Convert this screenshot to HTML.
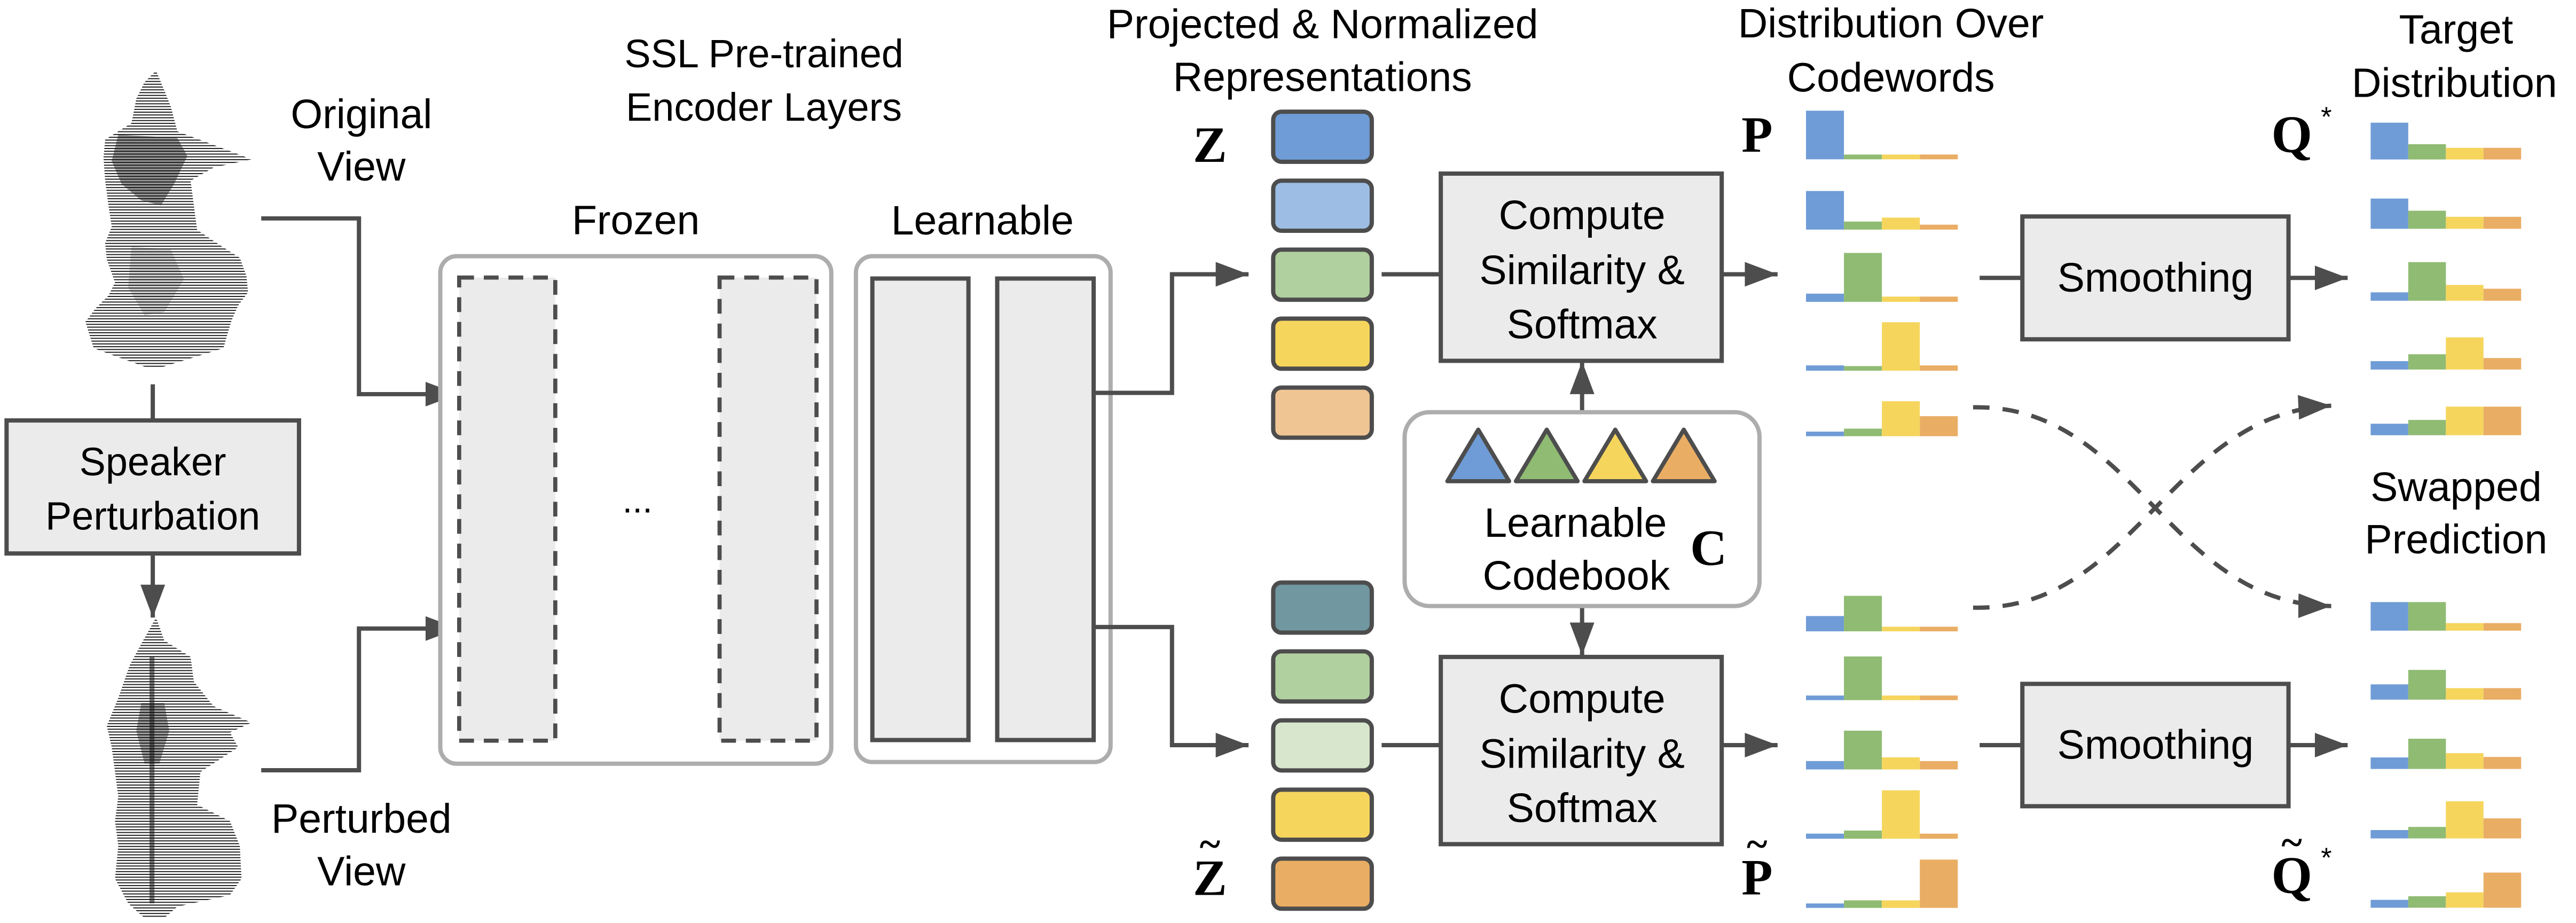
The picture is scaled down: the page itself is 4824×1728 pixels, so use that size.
<!DOCTYPE html>
<html><head><meta charset="utf-8"><style>
html,body{margin:0;padding:0;background:#fff;}
svg{display:block;}
text{font-family:"Liberation Sans",sans-serif;fill:#000;}
.m{font-family:"Liberation Serif",serif;font-weight:bold;}
</style></head><body>
<svg width="4824" height="1728" viewBox="0 0 1568 562" preserveAspectRatio="none" xmlns="http://www.w3.org/2000/svg">
<defs>
<marker id="a" markerUnits="userSpaceOnUse" markerWidth="21" markerHeight="16" refX="20" refY="7.5" orient="auto"><path d="M0,0 L20,7.5 L0,15 z" fill="#4d4d4d"/></marker>
<pattern id="st" width="6" height="1.7" patternUnits="userSpaceOnUse"><rect width="6" height="0.6" fill="#111"/></pattern>
</defs>
<rect width="1568" height="562" fill="#fff"/>

<!-- waveforms -->
<polygon points="95,43 100,55 104,65 108,80 140,92 153,97 130,102 116,110 118,125 120,140 135,150 146,157 150,168 151,178 145,186 141,195 138,205 136,212 110,220 97,224 90,224 57,212 52,196 58,188 66,180 70,172 65,158 64,148 68,138 66,125 64,110 63,96 64,85 80,75 83,60 88,50" fill="url(#st)"/>
<polygon points="72,82 108,84 114,95 106,112 98,125 86,122 74,112 68,98" fill="#111" opacity="0.45"/>
<polygon points="80,150 104,152 112,170 100,190 88,192 78,175" fill="#222" opacity="0.2"/>
<polygon points="95,376 100,390 116,400 118,415 130,430 153,440 140,446 145,455 122,470 120,490 140,500 146,515 147,535 140,545 108,552 100,559 88,559 78,550 70,535 72,515 70,500 72,485 70,470 68,455 65,442 72,425 79,405 86,392" fill="url(#st)"/>
<rect x="91" y="400" width="3" height="150" fill="#111" opacity="0.55"/>
<polygon points="86,428 100,428 103,445 97,465 88,465 83,445" fill="#111" opacity="0.4"/>

<g stroke="#4d4d4d" stroke-width="2.6" fill="none">
<line x1="93" y1="234" x2="93" y2="256"/>
<line x1="93" y1="337" x2="93" y2="376" marker-end="url(#a)"/>
<polyline points="159,133 218.5,133 218.5,240 279,240" marker-end="url(#a)"/>
<polyline points="159,469 218.5,469 218.5,382.7 279,382.7" marker-end="url(#a)"/>
</g>
<rect x="4" y="256" width="178" height="81" fill="#ebebeb" stroke="#4d4d4d" stroke-width="2.6"/>
<text x="93" y="289.5" font-size="24" text-anchor="middle">Speaker</text>
<text x="93" y="322.5" font-size="24" text-anchor="middle">Perturbation</text>
<text x="220" y="78" font-size="25" text-anchor="middle">Original</text>
<text x="220" y="110" font-size="25" text-anchor="middle">View</text>
<text x="220" y="507" font-size="25" text-anchor="middle">Perturbed</text>
<text x="220" y="539" font-size="25" text-anchor="middle">View</text>

<text x="465" y="41" font-size="24" text-anchor="middle">SSL Pre-trained</text>
<text x="465" y="73.5" font-size="24" text-anchor="middle">Encoder Layers</text>
<text x="387" y="142.6" font-size="25" text-anchor="middle">Frozen</text>
<text x="598" y="142.7" font-size="25" text-anchor="middle">Learnable</text>

<rect x="268" y="156" width="238" height="309" rx="10" fill="#fff" stroke="#adadad" stroke-width="2.6"/>
<rect x="279.5" y="169" width="58.5" height="282" fill="#ebebeb" stroke="#4d4d4d" stroke-width="2.5" stroke-dasharray="9 6"/>
<rect x="438" y="169" width="59" height="282" fill="#ebebeb" stroke="#4d4d4d" stroke-width="2.5" stroke-dasharray="9 6"/>
<text x="388" y="312" font-size="22" text-anchor="middle">...</text>
<rect x="521" y="156" width="155" height="308" rx="10" fill="#fff" stroke="#adadad" stroke-width="2.6"/>
<rect x="531" y="169.6" width="58.5" height="281" fill="#ebebeb" stroke="#4d4d4d" stroke-width="2.6"/>
<rect x="607" y="169.6" width="58.7" height="281" fill="#ebebeb" stroke="#4d4d4d" stroke-width="2.6"/>

<g stroke="#4d4d4d" stroke-width="2.6" fill="none">
<polyline points="665.7,239.2 713.4,239.2 713.4,167 760,167" marker-end="url(#a)"/>
<polyline points="665.7,381.8 713.4,381.8 713.4,453.7 760,453.7" marker-end="url(#a)"/>
<line x1="841" y1="167" x2="877" y2="167"/>
<line x1="841" y1="453.7" x2="877" y2="453.7"/>
<line x1="1048" y1="167" x2="1082" y2="167" marker-end="url(#a)"/>
<line x1="1048" y1="453.7" x2="1082" y2="453.7" marker-end="url(#a)"/>
<line x1="963" y1="251" x2="963" y2="220" marker-end="url(#a)"/>
<line x1="963" y1="369" x2="963" y2="399" marker-end="url(#a)"/>
<line x1="1205" y1="169.2" x2="1231" y2="169.2"/>
<line x1="1393" y1="169.2" x2="1429" y2="169.2" marker-end="url(#a)"/>
<line x1="1205" y1="453.7" x2="1231" y2="453.7"/>
<line x1="1393" y1="453.7" x2="1429" y2="453.7" marker-end="url(#a)"/>
</g>

<text x="805" y="23.3" font-size="25" text-anchor="middle">Projected &amp; Normalized</text>
<text x="805" y="55.5" font-size="25" text-anchor="middle">Representations</text>
<text class="m" x="736.5" y="98.5" font-size="31" text-anchor="middle">Z</text>
<text class="m" x="736.5" y="545" font-size="31" text-anchor="middle">Z</text>
<text class="m" x="736.5" y="522" font-size="24" text-anchor="middle">~</text>

<g stroke="#4d4d4d" stroke-width="2.6">
<rect x="775" y="68" width="60" height="30.5" rx="5" fill="#6f9cd6"/>
<rect x="775" y="110" width="60" height="30.5" rx="5" fill="#9dbde4"/>
<rect x="775" y="152" width="60" height="30.5" rx="5" fill="#b1d09f"/>
<rect x="775" y="194" width="60" height="30.5" rx="5" fill="#f6d55d"/>
<rect x="775" y="236" width="60" height="30.5" rx="5" fill="#f0c594"/>
<rect x="775" y="354.7" width="60" height="30.5" rx="5" fill="#7197a0"/>
<rect x="775" y="396.6" width="60" height="30.5" rx="5" fill="#b1d09f"/>
<rect x="775" y="438.6" width="60" height="30.5" rx="5" fill="#d7e6cd"/>
<rect x="775" y="480.8" width="60" height="30.5" rx="5" fill="#f6d55d"/>
<rect x="775" y="522.8" width="60" height="30.5" rx="5" fill="#e9ad64"/>
</g>

<rect x="877" y="105.7" width="171" height="114" fill="#ebebeb" stroke="#4d4d4d" stroke-width="2.6"/>
<text x="963" y="139.5" font-size="25" text-anchor="middle">Compute</text>
<text x="963" y="173" font-size="25" text-anchor="middle">Similarity &amp;</text>
<text x="963" y="206" font-size="25" text-anchor="middle">Softmax</text>
<rect x="877" y="400" width="171" height="114" fill="#ebebeb" stroke="#4d4d4d" stroke-width="2.6"/>
<text x="963" y="434" font-size="25" text-anchor="middle">Compute</text>
<text x="963" y="467.6" font-size="25" text-anchor="middle">Similarity &amp;</text>
<text x="963" y="500.5" font-size="25" text-anchor="middle">Softmax</text>

<rect x="855" y="251" width="216" height="118" rx="15" fill="#fff" stroke="#adadad" stroke-width="2.6"/>
<g stroke="#4d4d4d" stroke-width="2.5" stroke-linejoin="round">
<polygon points="881,293 899.8,261.6 918.6,293" fill="#6f9cd6"/>
<polygon points="922.7,293 941.5,261.6 960.3,293" fill="#90bb73"/>
<polygon points="964.4,293 983.2,261.6 1002,293" fill="#f6d55d"/>
<polygon points="1006.1,293 1024.9,261.6 1043.7,293" fill="#e9ad64"/>
</g>
<text x="959" y="326.8" font-size="25" text-anchor="middle">Learnable</text>
<text x="959.5" y="359" font-size="25" text-anchor="middle">Codebook</text>
<text class="m" x="1040" y="344" font-size="31" text-anchor="middle">C</text>

<text x="1151" y="22.8" font-size="25" text-anchor="middle">Distribution Over</text>
<text x="1151" y="55.8" font-size="25" text-anchor="middle">Codewords</text>
<text class="m" x="1069.5" y="92.3" font-size="31" text-anchor="middle">P</text>
<text class="m" x="1069.5" y="544.6" font-size="31" text-anchor="middle">P</text>
<text class="m" x="1069.5" y="522" font-size="24" text-anchor="middle">~</text>

<text x="1495" y="26.5" font-size="25" text-anchor="middle">Target</text>
<text x="1494" y="59" font-size="25" text-anchor="middle">Distribution</text>
<text x="1495" y="305" font-size="25" text-anchor="middle">Swapped</text>
<text x="1495" y="337" font-size="25" text-anchor="middle">Prediction</text>
<text class="m" x="1395" y="92.6" font-size="32" text-anchor="middle">Q</text>
<text x="1416" y="77" font-size="17" text-anchor="middle">*</text>
<text class="m" x="1395" y="543.6" font-size="32" text-anchor="middle">Q</text>
<text class="m" x="1395" y="521" font-size="24" text-anchor="middle">~</text>
<text x="1416" y="528" font-size="17" text-anchor="middle">*</text>

<rect x="1231" y="131.8" width="162" height="74.8" fill="#ebebeb" stroke="#4d4d4d" stroke-width="2.6"/>
<text x="1312" y="177.5" font-size="25" text-anchor="middle">Smoothing</text>
<rect x="1231" y="416.4" width="162" height="74.5" fill="#ebebeb" stroke="#4d4d4d" stroke-width="2.6"/>
<text x="1312" y="462" font-size="25" text-anchor="middle">Smoothing</text>

<g fill="none" stroke="#4d4d4d" stroke-width="2.6" stroke-dasharray="10 8">
<path d="M1201,248 C1300,246 1320,368 1419,369" marker-end="url(#a)"/>
<path d="M1201,370 C1300,372 1320,252 1419,247" marker-end="url(#a)"/>
</g>

<g transform="translate(1099.3,0)">
<rect x="0" y="67.4" width="23.1" height="29.6" fill="#6f9cd6"/><rect x="23.1" y="94.1" width="23.1" height="2.9" fill="#90bb73"/><rect x="46.2" y="94.1" width="23.1" height="2.9" fill="#f6d55d"/><rect x="69.3" y="94.1" width="23.1" height="2.9" fill="#e9ad64"/>
<rect x="0" y="116.3" width="23.1" height="23.5" fill="#6f9cd6"/><rect x="23.1" y="134.9" width="23.1" height="4.9" fill="#90bb73"/><rect x="46.2" y="132.5" width="23.1" height="7.3" fill="#f6d55d"/><rect x="69.3" y="136.8" width="23.1" height="3" fill="#e9ad64"/>
<rect x="0" y="178.8" width="23.1" height="5" fill="#6f9cd6"/><rect x="23.1" y="154" width="23.1" height="29.8" fill="#90bb73"/><rect x="46.2" y="180.6" width="23.1" height="3.2" fill="#f6d55d"/><rect x="69.3" y="180.6" width="23.1" height="3.2" fill="#e9ad64"/>
<rect x="0" y="222.5" width="23.1" height="3.2" fill="#6f9cd6"/><rect x="23.1" y="222.9" width="23.1" height="2.8" fill="#90bb73"/><rect x="46.2" y="196.2" width="23.1" height="29.5" fill="#f6d55d"/><rect x="69.3" y="222.5" width="23.1" height="3.2" fill="#e9ad64"/>
<rect x="0" y="262.8" width="23.1" height="2.8" fill="#6f9cd6"/><rect x="23.1" y="261" width="23.1" height="4.6" fill="#90bb73"/><rect x="46.2" y="244.3" width="23.1" height="21.3" fill="#f6d55d"/><rect x="69.3" y="253.4" width="23.1" height="12.2" fill="#e9ad64"/>
<rect x="0" y="375.1" width="23.1" height="9.3" fill="#6f9cd6"/><rect x="23.1" y="362.8" width="23.1" height="21.6" fill="#90bb73"/><rect x="46.2" y="381.6" width="23.1" height="2.8" fill="#f6d55d"/><rect x="69.3" y="381.6" width="23.1" height="2.8" fill="#e9ad64"/>
<rect x="0" y="423.5" width="23.1" height="2.8" fill="#6f9cd6"/><rect x="23.1" y="399.7" width="23.1" height="26.6" fill="#90bb73"/><rect x="46.2" y="423.5" width="23.1" height="2.8" fill="#f6d55d"/><rect x="69.3" y="423.5" width="23.1" height="2.8" fill="#e9ad64"/>
<rect x="0" y="463.4" width="23.1" height="5.1" fill="#6f9cd6"/><rect x="23.1" y="444.9" width="23.1" height="23.6" fill="#90bb73"/><rect x="46.2" y="461.1" width="23.1" height="7.4" fill="#f6d55d"/><rect x="69.3" y="463.4" width="23.1" height="5.1" fill="#e9ad64"/>
<rect x="0" y="507.6" width="23.1" height="3.1" fill="#6f9cd6"/><rect x="23.1" y="505.7" width="23.1" height="5" fill="#90bb73"/><rect x="46.2" y="481.2" width="23.1" height="29.5" fill="#f6d55d"/><rect x="69.3" y="507.6" width="23.1" height="3.1" fill="#e9ad64"/>
<rect x="0" y="550.1" width="23.1" height="2.7" fill="#6f9cd6"/><rect x="23.1" y="548.2" width="23.1" height="4.6" fill="#90bb73"/><rect x="46.2" y="548.2" width="23.1" height="4.6" fill="#f6d55d"/><rect x="69.3" y="523.4" width="23.1" height="29.4" fill="#e9ad64"/>
</g>
<g transform="translate(1443,0)">
<rect x="0" y="74.7" width="22.9" height="22.4" fill="#6f9cd6"/><rect x="22.9" y="87.8" width="22.9" height="9.3" fill="#90bb73"/><rect x="45.8" y="90" width="22.9" height="7.1" fill="#f6d55d"/><rect x="68.7" y="90" width="22.9" height="7.1" fill="#e9ad64"/>
<rect x="0" y="120.9" width="22.9" height="18.4" fill="#6f9cd6"/><rect x="22.9" y="128.3" width="22.9" height="11" fill="#90bb73"/><rect x="45.8" y="132" width="22.9" height="7.3" fill="#f6d55d"/><rect x="68.7" y="132" width="22.9" height="7.3" fill="#e9ad64"/>
<rect x="0" y="178" width="22.9" height="5.1" fill="#6f9cd6"/><rect x="22.9" y="159.6" width="22.9" height="23.5" fill="#90bb73"/><rect x="45.8" y="173.5" width="22.9" height="9.6" fill="#f6d55d"/><rect x="68.7" y="175.8" width="22.9" height="7.3" fill="#e9ad64"/>
<rect x="0" y="219.9" width="22.9" height="5.1" fill="#6f9cd6"/><rect x="22.9" y="215.7" width="22.9" height="9.3" fill="#90bb73"/><rect x="45.8" y="205.4" width="22.9" height="19.6" fill="#f6d55d"/><rect x="68.7" y="218" width="22.9" height="7" fill="#e9ad64"/>
<rect x="0" y="258" width="22.9" height="7" fill="#6f9cd6"/><rect x="22.9" y="255.7" width="22.9" height="9.3" fill="#90bb73"/><rect x="45.8" y="247.6" width="22.9" height="17.4" fill="#f6d55d"/><rect x="68.7" y="247.6" width="22.9" height="17.4" fill="#e9ad64"/>
<rect x="0" y="366.6" width="22.9" height="17.4" fill="#6f9cd6"/><rect x="22.9" y="366.6" width="22.9" height="17.4" fill="#90bb73"/><rect x="45.8" y="379.4" width="22.9" height="4.6" fill="#f6d55d"/><rect x="68.7" y="379.4" width="22.9" height="4.6" fill="#e9ad64"/>
<rect x="0" y="416.7" width="22.9" height="9.3" fill="#6f9cd6"/><rect x="22.9" y="407.9" width="22.9" height="18.1" fill="#90bb73"/><rect x="45.8" y="419" width="22.9" height="7" fill="#f6d55d"/><rect x="68.7" y="419" width="22.9" height="7" fill="#e9ad64"/>
<rect x="0" y="461.2" width="22.9" height="7" fill="#6f9cd6"/><rect x="22.9" y="449.8" width="22.9" height="18.4" fill="#90bb73"/><rect x="45.8" y="458.6" width="22.9" height="9.6" fill="#f6d55d"/><rect x="68.7" y="460.9" width="22.9" height="7.3" fill="#e9ad64"/>
<rect x="0" y="505.4" width="22.9" height="5.1" fill="#6f9cd6"/><rect x="22.9" y="503.5" width="22.9" height="7" fill="#90bb73"/><rect x="45.8" y="487.9" width="22.9" height="22.6" fill="#f6d55d"/><rect x="68.7" y="498.3" width="22.9" height="12.2" fill="#e9ad64"/>
<rect x="0" y="547.9" width="22.9" height="4.8" fill="#6f9cd6"/><rect x="22.9" y="545.7" width="22.9" height="7" fill="#90bb73"/><rect x="45.8" y="543.3" width="22.9" height="9.4" fill="#f6d55d"/><rect x="68.7" y="531.3" width="22.9" height="21.4" fill="#e9ad64"/>
</g>
</svg>
</body></html>
